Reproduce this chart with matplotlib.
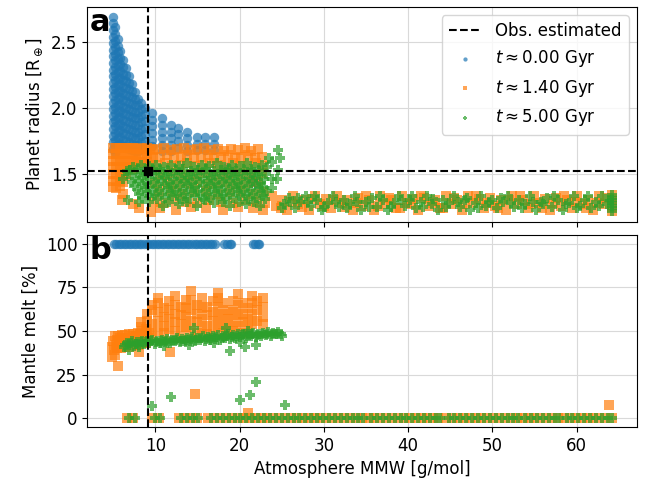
import numpy as np
import matplotlib.pyplot as plt

# observed estimate
obs_mmw = 9.1
obs_radius = 1.52

# ---- panel a: planet radius vs MMW ----
# t = 0 Gyr, grouped by column: (mmw, [radius, ...])
blue_radius_cols = [
    (4.95, [2.69, 2.64, 2.59, 2.54, 2.49, 2.44, 2.39, 2.34, 2.29, 2.24, 2.19, 2.14, 2.09, 2.04, 1.99, 1.94, 1.89, 1.84, 1.79, 1.74, 1.69]),
    (5.25, [2.61, 2.56, 2.51, 2.46, 2.41, 2.36, 2.31, 2.26, 2.21, 2.16, 2.11, 2.06, 2.01, 1.96, 1.91, 1.86, 1.81, 1.76, 1.71, 1.66]),
    (5.55, [2.52, 2.47, 2.42, 2.37, 2.32, 2.27, 2.22, 2.17, 2.12, 2.07, 2.02, 1.97, 1.92, 1.87, 1.82, 1.77, 1.72]),
    (5.85, [2.43, 2.38, 2.33, 2.28, 2.23, 2.18, 2.13, 2.08, 2.03, 1.98, 1.93, 1.88, 1.83, 1.78, 1.73]),
    (6.15, [2.36, 2.31, 2.26, 2.21, 2.16, 2.11, 2.06, 2.01, 1.96, 1.91, 1.86, 1.81, 1.76, 1.71]),
    (6.50, [2.30, 2.25, 2.20, 2.15, 2.10, 2.05, 2.00, 1.95, 1.90, 1.85, 1.80, 1.75, 1.70]),
    (6.85, [2.24, 2.19, 2.14, 2.09, 2.04, 1.99, 1.94, 1.89, 1.84, 1.79, 1.74, 1.69]),
    (7.20, [2.18, 2.13, 2.08, 2.03, 1.98, 1.93, 1.88, 1.83, 1.78, 1.73, 1.68]),
    (7.55, [2.12, 2.07, 2.02, 1.97, 1.92, 1.87, 1.82, 1.77, 1.72, 1.67]),
    (7.95, [2.07, 2.02, 1.97, 1.92, 1.87, 1.82, 1.77, 1.72, 1.67]),
    (8.35, [2.04, 1.99, 1.94, 1.89, 1.84, 1.79, 1.74, 1.69]),
    (8.80, [2.00, 1.95, 1.90, 1.85, 1.80, 1.75, 1.70]),
    (9.60, [1.96, 1.91, 1.86, 1.81, 1.76, 1.71]),
    (10.8, [1.92, 1.87, 1.82, 1.77, 1.72, 1.67]),
    (11.9, [1.87, 1.82, 1.77, 1.72, 1.67]),
    (12.7, [1.85, 1.80, 1.75, 1.70]),
    (13.7, [1.82, 1.77, 1.72, 1.67]),
    (14.9, [1.78, 1.73, 1.68]),
    (15.9, [1.78, 1.73, 1.68]),
    (16.9, [1.78, 1.73, 1.68]),
    (18.5, [1.55, 1.50]),
    (19.2, [1.52]),
    (21.5, [1.47, 1.44]),
    (22.0, [1.43]),
]

# t = 1.4 Gyr (mmw, radius)
orange_radius = [
    (4.95, 1.70), (4.95, 1.65), (4.95, 1.60), (4.95, 1.55), (4.95, 1.50), (4.95, 1.45), (4.95, 1.40),
    (5.35, 1.70), (5.35, 1.65), (5.35, 1.60), (5.35, 1.55), (5.35, 1.50), (5.35, 1.45), (5.35, 1.39),
    (5.75, 1.70), (5.75, 1.65), (5.75, 1.60), (5.75, 1.55), (5.75, 1.50), (5.75, 1.45), (5.75, 1.41),
    (6.15, 1.70), (6.15, 1.65), (6.15, 1.60), (6.15, 1.55), (6.15, 1.50), (6.15, 1.44), (6.10, 1.35),
    (6.55, 1.70), (6.55, 1.65), (6.55, 1.60), (6.55, 1.55), (6.55, 1.49),
    (6.95, 1.70), (6.95, 1.65), (6.95, 1.60), (6.95, 1.55),
    (7.35, 1.70), (7.35, 1.65), (7.35, 1.60), (7.35, 1.54),
    (7.75, 1.69), (7.75, 1.64), (7.75, 1.59),
    (8.15, 1.70), (8.15, 1.65), (8.15, 1.59),
    (8.55, 1.69), (8.55, 1.64), (8.55, 1.58),
    (8.95, 1.70), (8.95, 1.65), (8.95, 1.59),
    (9.35, 1.69), (9.35, 1.63), (9.35, 1.57),
    (9.75, 1.68), (9.75, 1.62),
    (6.0, 1.30), (7.3, 1.27), (8.0, 1.24), (9.5, 1.21),
    (10.2, 1.69), (11.0, 1.70), (11.8, 1.68), (12.6, 1.69), (13.4, 1.70), (14.2, 1.68), (15.0, 1.69), (15.8, 1.70),
    (16.6, 1.68), (17.4, 1.69), (18.2, 1.67), (19.0, 1.69), (19.8, 1.68), (20.6, 1.70), (21.4, 1.67), (22.2, 1.69),
    (10.6, 1.63), (11.4, 1.64), (12.2, 1.62), (13.0, 1.63), (13.8, 1.64), (14.6, 1.62), (15.4, 1.63), (16.2, 1.64),
    (17.0, 1.62), (17.8, 1.63), (18.6, 1.64), (19.4, 1.62), (20.2, 1.63), (21.0, 1.64), (21.8, 1.62), (22.6, 1.63),
    (10.2, 1.57), (11.1, 1.58), (12.0, 1.56), (12.9, 1.57), (13.8, 1.58), (14.7, 1.56), (15.6, 1.57), (16.5, 1.58),
    (17.4, 1.56), (18.3, 1.57), (19.2, 1.58), (20.1, 1.56), (21.0, 1.57), (21.9, 1.58), (22.8, 1.56),
    (10.6, 1.50), (11.8, 1.51), (13.0, 1.49), (14.2, 1.50), (15.4, 1.51), (16.6, 1.49), (17.8, 1.50), (19.0, 1.51),
    (20.2, 1.49), (21.4, 1.50), (22.6, 1.51),
    (10.0, 1.43), (11.4, 1.44), (12.6, 1.42), (13.8, 1.43), (15.0, 1.44), (16.2, 1.42), (17.4, 1.43), (18.6, 1.44),
    (19.8, 1.42), (21.0, 1.43), (22.2, 1.44),
    (10.4, 1.36), (11.8, 1.37), (13.2, 1.35), (14.6, 1.36), (16.0, 1.37), (17.4, 1.35), (18.8, 1.36), (20.2, 1.37),
    (21.6, 1.35), (22.8, 1.36),
    (9.8, 1.29), (11.0, 1.28), (12.2, 1.30), (13.6, 1.29), (15.0, 1.28), (16.4, 1.30), (17.8, 1.29), (19.2, 1.28),
    (20.6, 1.30), (22.0, 1.29), (23.0, 1.28),
    (10.6, 1.24), (12.4, 1.23), (14.2, 1.25), (16.0, 1.24), (18.0, 1.23), (19.8, 1.25), (21.6, 1.24), (22.8, 1.23),
    (23.8, 1.33), (24.3, 1.26), (25.0, 1.30), (25.6, 1.23), (26.3, 1.33), (26.9, 1.27), (27.6, 1.30), (28.2, 1.23),
    (28.9, 1.33), (29.5, 1.27), (30.2, 1.31), (30.8, 1.24), (31.5, 1.33), (32.1, 1.28), (32.8, 1.30), (33.4, 1.23),
    (34.1, 1.32), (34.7, 1.26), (35.4, 1.30), (36.0, 1.23), (36.7, 1.33), (37.3, 1.27), (38.0, 1.30), (38.6, 1.24),
    (39.3, 1.33), (39.9, 1.28), (40.6, 1.31), (41.2, 1.23), (41.9, 1.32), (42.5, 1.26), (43.2, 1.30), (43.8, 1.24),
    (44.5, 1.33), (45.1, 1.27), (45.8, 1.30), (46.4, 1.23), (47.1, 1.33), (47.7, 1.28), (48.4, 1.31), (49.0, 1.24),
    (49.7, 1.32), (50.3, 1.26), (51.0, 1.30), (51.6, 1.23), (52.3, 1.33), (52.9, 1.27), (53.6, 1.30), (54.2, 1.24),
    (54.9, 1.33), (55.5, 1.28), (56.2, 1.31), (56.8, 1.23), (57.5, 1.32), (58.1, 1.26), (58.8, 1.30), (59.4, 1.24),
    (60.1, 1.33), (60.7, 1.27), (61.4, 1.30), (62.0, 1.23), (62.7, 1.33), (63.3, 1.27),
    (24.9, 1.24), (26.1, 1.29), (27.4, 1.25), (28.6, 1.31), (30.0, 1.26), (31.2, 1.30), (32.5, 1.25), (33.8, 1.28),
    (35.0, 1.33), (36.4, 1.26), (37.7, 1.32), (39.0, 1.24), (40.3, 1.27), (41.5, 1.33), (42.9, 1.28), (44.2, 1.24),
    (45.5, 1.32), (46.8, 1.27), (48.1, 1.33), (49.4, 1.28), (50.7, 1.24), (52.0, 1.30), (53.3, 1.33), (54.6, 1.27),
    (55.9, 1.24), (57.2, 1.28), (58.5, 1.33), (59.8, 1.29), (61.1, 1.24), (62.4, 1.28), (63.6, 1.32),
    (64.2, 1.22), (64.2, 1.25), (64.2, 1.28), (64.2, 1.31), (64.2, 1.34),
]

# t = 5 Gyr (mmw, radius)
green_radius = [
    (7.4, 1.55), (8.3, 1.57), (9.2, 1.56), (10.1, 1.57), (11.0, 1.55), (11.9, 1.57), (12.8, 1.56), (13.7, 1.58),
    (14.6, 1.55), (15.5, 1.57), (16.4, 1.56), (17.3, 1.58), (18.2, 1.55), (19.1, 1.57), (20.0, 1.56), (20.9, 1.58),
    (21.8, 1.55), (22.7, 1.57),
    (7.0, 1.53), (7.9, 1.54), (8.8, 1.52), (9.7, 1.53), (10.6, 1.54), (11.5, 1.52), (12.4, 1.53), (13.3, 1.54),
    (14.2, 1.52), (15.1, 1.53), (16.0, 1.54), (16.9, 1.52), (17.8, 1.53), (18.7, 1.54), (19.6, 1.52), (20.5, 1.53),
    (21.4, 1.54), (22.3, 1.52), (23.2, 1.55),
    (6.8, 1.50), (7.8, 1.51), (8.7, 1.49), (9.6, 1.50), (10.5, 1.51), (11.4, 1.49), (12.3, 1.50), (13.2, 1.51),
    (14.1, 1.49), (15.0, 1.50), (15.9, 1.51), (16.8, 1.49), (17.7, 1.50), (18.6, 1.51), (19.5, 1.49), (20.4, 1.50),
    (21.3, 1.51), (22.2, 1.49), (23.1, 1.50),
    (7.6, 1.47), (8.5, 1.48), (9.4, 1.46), (10.3, 1.47), (11.2, 1.48), (12.1, 1.46), (13.0, 1.47), (13.9, 1.48),
    (14.8, 1.46), (15.7, 1.47), (16.6, 1.48), (17.5, 1.46), (18.4, 1.47), (19.3, 1.48), (20.2, 1.46), (21.1, 1.47),
    (22.0, 1.48), (22.9, 1.46),
    (7.2, 1.44), (8.1, 1.45), (9.0, 1.43), (9.9, 1.44), (10.8, 1.45), (11.7, 1.43), (12.6, 1.44), (13.5, 1.45),
    (14.4, 1.43), (15.3, 1.44), (16.2, 1.45), (17.1, 1.43), (18.0, 1.44), (18.9, 1.45), (19.8, 1.43), (20.7, 1.44),
    (21.6, 1.45), (22.5, 1.43),
    (7.5, 1.41), (8.4, 1.42), (9.3, 1.40), (10.2, 1.41), (11.1, 1.42), (12.0, 1.40), (12.9, 1.41), (13.8, 1.42),
    (14.7, 1.40), (15.6, 1.41), (16.5, 1.42), (17.4, 1.40), (18.3, 1.41), (19.2, 1.42), (20.1, 1.40), (21.0, 1.41),
    (21.9, 1.42), (22.8, 1.40),
    (7.9, 1.38), (8.8, 1.39), (9.7, 1.37), (10.6, 1.38), (11.5, 1.39), (12.4, 1.37), (13.3, 1.38), (14.2, 1.39),
    (15.1, 1.37), (16.0, 1.38), (16.9, 1.39), (17.8, 1.37), (18.7, 1.38), (19.6, 1.39), (20.5, 1.37), (21.4, 1.38),
    (22.3, 1.39), (23.2, 1.37),
    (8.1, 1.35), (9.0, 1.36), (9.9, 1.34), (10.8, 1.35), (11.7, 1.36), (12.6, 1.34), (13.5, 1.35), (14.4, 1.36),
    (15.3, 1.34), (16.2, 1.35), (17.1, 1.36), (18.0, 1.34), (18.9, 1.35), (19.8, 1.36), (20.7, 1.34), (21.6, 1.35),
    (22.5, 1.36),
    (8.4, 1.32), (9.3, 1.33), (10.2, 1.31), (11.1, 1.32), (12.0, 1.33), (12.9, 1.31), (13.8, 1.32), (14.7, 1.33),
    (15.6, 1.31), (16.5, 1.32), (17.4, 1.33), (18.3, 1.31), (19.2, 1.32), (20.1, 1.33), (21.0, 1.31), (21.9, 1.32),
    (22.8, 1.33),
    (6.7, 1.30), (9.3, 1.29), (10.9, 1.26), (12.8, 1.27), (14.9, 1.26), (17.0, 1.28), (18.9, 1.26), (20.8, 1.27),
    (22.4, 1.26), (6.2, 1.46), (6.6, 1.52),
    (8.0, 1.29), (11.6, 1.29), (13.7, 1.29), (15.9, 1.30), (18.0, 1.29), (19.9, 1.29), (21.7, 1.29), (23.0, 1.31),
    (23.9, 1.59), (24.8, 1.62), (24.5, 1.68), (23.8, 1.46), (24.4, 1.46), (23.8, 1.39), (24.6, 1.53), (23.5, 1.62),
    (25.3, 1.27), (25.9, 1.32), (26.6, 1.24), (27.2, 1.29), (27.9, 1.33), (28.5, 1.26), (29.2, 1.30), (29.8, 1.23),
    (30.5, 1.28), (31.1, 1.33), (31.8, 1.25), (32.4, 1.30), (33.1, 1.27), (33.7, 1.33), (34.4, 1.23), (35.0, 1.29),
    (35.7, 1.32), (36.3, 1.25), (37.0, 1.30), (37.6, 1.23), (38.3, 1.28), (38.9, 1.33), (39.6, 1.26), (40.2, 1.30),
    (40.9, 1.24), (41.5, 1.29), (42.2, 1.33), (42.8, 1.27), (43.5, 1.23), (44.1, 1.30), (44.8, 1.28), (45.4, 1.33),
    (46.1, 1.25), (46.7, 1.30), (47.4, 1.23), (48.0, 1.28), (48.7, 1.33), (49.3, 1.26), (50.0, 1.30), (50.6, 1.24),
    (51.3, 1.29), (51.9, 1.33), (52.6, 1.25), (53.2, 1.30), (53.9, 1.27), (54.5, 1.33), (55.2, 1.23), (55.8, 1.29),
    (56.5, 1.32), (57.1, 1.25), (57.8, 1.30), (58.4, 1.23), (59.1, 1.28), (59.7, 1.33), (60.4, 1.26), (61.0, 1.30),
    (61.7, 1.24), (62.3, 1.29), (63.0, 1.33), (63.6, 1.27),
    (25.0, 1.24), (26.0, 1.29), (26.9, 1.32), (28.1, 1.29), (29.0, 1.33), (30.0, 1.25), (31.4, 1.29), (32.8, 1.24),
    (33.9, 1.29), (35.3, 1.25), (36.7, 1.33), (38.0, 1.25), (39.2, 1.30), (40.5, 1.33), (41.8, 1.25), (43.0, 1.31),
    (44.5, 1.25), (45.9, 1.29), (47.0, 1.32), (48.3, 1.24), (49.6, 1.29), (51.0, 1.32), (52.2, 1.28), (53.5, 1.24),
    (54.8, 1.29), (56.0, 1.27), (57.3, 1.33), (58.7, 1.27), (60.0, 1.24), (61.3, 1.33), (62.6, 1.26), (63.8, 1.30),
    (64.2, 1.22), (64.2, 1.24), (64.2, 1.26), (64.2, 1.28), (64.2, 1.30), (64.2, 1.32), (64.2, 1.34),
]

# ---- panel b: mantle melt vs MMW ----
blue_melt_x = [5.05, 5.35, 5.65, 5.95, 6.25, 6.55, 6.85, 7.15, 7.45, 7.75, 8.05, 8.35, 8.65, 8.95,
               9.25, 9.55, 9.85, 10.15, 10.45, 10.75, 11.05, 11.35, 11.65, 11.95, 12.25, 12.55, 12.85,
               13.15, 13.45, 13.75, 14.05, 14.35, 14.65, 14.95, 15.25, 15.55, 15.85, 16.15, 16.45,
               16.75, 17.05, 18.2, 18.5, 18.8, 19.0, 21.55, 21.85, 22.15, 22.35]
blue_melt = [100, 100, 100, 100, 100, 100, 100, 100, 100, 100, 100, 100, 100, 100,
             100, 100, 100, 100, 100, 100, 100, 100, 100, 100, 100, 100, 100,
             100, 100, 100, 100, 100, 100, 100, 100, 100, 100, 100, 100,
             100, 100, 100, 100, 100, 100, 100, 100, 100, 100]

orange_melt = [
    (4.9, 41), (5.0, 44), (5.3, 42), (5.4, 45), (5.7, 43), (5.8, 46), (6.1, 42), (6.2, 45), (6.6, 43), (6.7, 46),
    (7.1, 44), (7.2, 47), (7.6, 44), (7.7, 47), (8.1, 45), (8.2, 48), (8.6, 45), (8.7, 48), (9.1, 46), (9.2, 49),
    (5.1, 39), (5.5, 40), (5.9, 40), (6.4, 41), (6.9, 41), (7.4, 42), (7.9, 42), (8.4, 43), (8.9, 43),
    (5.2, 47), (5.6, 47), (6.0, 47.5), (6.4, 47.5), (6.9, 48), (7.4, 48.5), (7.9, 49), (8.4, 50), (8.9, 51),
    (4.85, 35), (5.25, 36), (5.6, 30), (8.0, 38), (11.7, 38), (14.7, 14), (21.0, 3), (63.8, 7.5),
    (8.3, 52), (8.3, 55), (9.0, 50), (9.0, 56), (9.0, 60), (9.6, 48), (9.6, 54), (9.6, 62), (9.6, 65),
    (10.3, 50), (10.3, 56), (10.3, 61), (10.3, 66), (10.3, 69), (11.0, 49), (11.0, 53), (11.0, 58), (11.0, 63),
    (11.6, 51), (11.6, 57), (11.6, 62), (11.6, 67), (12.3, 50), (12.3, 55), (12.3, 60), (12.3, 65), (12.3, 70),
    (13.0, 48), (13.0, 54), (13.0, 59), (13.0, 64), (13.6, 52), (13.6, 58), (13.6, 63), (13.6, 68),
    (14.2, 50), (14.2, 56), (14.2, 62), (14.2, 68), (14.2, 73), (14.9, 49), (14.9, 55), (14.9, 60), (14.9, 65),
    (15.5, 51), (15.5, 57), (15.5, 63), (15.5, 69), (16.1, 48), (16.1, 53), (16.1, 59), (16.1, 64),
    (16.8, 50), (16.8, 56), (16.8, 61), (16.8, 67), (17.4, 52), (17.4, 58), (17.4, 64), (17.4, 69), (17.4, 72),
    (18.0, 49), (18.0, 54), (18.0, 60), (18.0, 66), (18.6, 51), (18.6, 57), (18.6, 62),
    (19.2, 50), (19.2, 55), (19.2, 61), (19.2, 67), (19.8, 53), (19.8, 59), (19.8, 65), (19.8, 71),
    (20.4, 49), (20.4, 55), (20.4, 60), (20.4, 66), (21.0, 51), (21.0, 57), (21.0, 63),
    (21.5, 54), (21.5, 60), (21.5, 66), (21.5, 70), (22.1, 56), (22.1, 62), (22.1, 67),
    (22.8, 54), (22.8, 58), (22.8, 64), (22.8, 69),
]
orange_zero_x = [6.6, 7.4, 9.6, 10.4, 12.8, 13.5, 14.2, 14.9, 16.3, 17.0, 17.7, 18.4, 19.1, 19.8, 20.5,
                 21.2, 21.9, 22.6, 23.3, 24.0, 24.7, 25.4, 26.1, 26.8, 27.5, 28.2, 28.9, 29.6, 30.3,
                 31.0, 31.7, 32.4, 33.1, 33.8, 34.5, 35.3, 36.0, 36.7, 37.4, 38.1, 38.8, 39.5, 40.2,
                 40.9, 41.6, 42.3, 43.0, 43.6, 44.5, 45.2, 45.9, 46.6, 47.3, 48.0, 48.7, 49.4, 50.1,
                 50.8, 51.5, 52.2, 52.9, 53.6, 54.3, 55.0, 55.7, 56.4, 57.1, 57.8, 58.5, 59.2, 59.9,
                 60.6, 61.3, 62.0, 62.7, 63.4, 64.2]
orange_zero = [0, 0, 0, 0, 0, 0, 0, 0, 0, 0, 0, 0, 0, 0, 0,
               0, 0, 0, 0, 0, 0, 0, 0, 0, 0, 0, 0, 0, 0,
               0, 0, 0, 0, 0, 0, 0, 0, 0, 0, 0, 0, 0, 0,
               0, 0, 0, 0, 0, 0, 0, 0, 0, 0, 0, 0, 0, 0,
               0, 0, 0, 0, 0, 0, 0, 0, 0, 0, 0, 0, 0, 0,
               0, 0, 0, 0, 0, 0]

green_melt = [
    (6.3, 41), (6.6, 43), (6.9, 42), (7.2, 44), (7.5, 41.5), (7.8, 43.5), (8.1, 42), (8.4, 44.5), (8.7, 42.5),
    (9.0, 44), (9.3, 43), (9.6, 45), (9.9, 42.5), (10.2, 44.5), (10.5, 43), (10.8, 45), (11.1, 43.5), (11.4, 45.5),
    (11.7, 43), (12.0, 45), (12.3, 44), (12.6, 46), (12.9, 43.5), (13.2, 45.5), (13.5, 44), (13.8, 46),
    (14.1, 44.5), (14.4, 46.5), (14.7, 44), (15.0, 46), (15.3, 45), (15.6, 47), (15.9, 44.5), (16.2, 46.5),
    (16.5, 45), (16.8, 47), (17.1, 45.5), (17.4, 47.5), (17.7, 45), (18.0, 47), (18.3, 46), (18.6, 48),
    (18.9, 45.5), (19.2, 47.5), (19.5, 46), (19.8, 48), (20.1, 46.5), (20.4, 48.5), (20.7, 46), (21.0, 48),
    (21.3, 47), (21.6, 49), (21.9, 46.5), (22.2, 48.5), (22.5, 47), (22.8, 49), (23.1, 47.5), (23.4, 49.5),
    (23.7, 47), (24.0, 49), (24.3, 48), (24.6, 49.5), (24.9, 48),
    (6.45, 42), (7.05, 43), (7.65, 42.5), (8.25, 43.5), (8.85, 43.5), (9.45, 44), (10.05, 43.5), (10.65, 44),
    (11.25, 44.5), (11.85, 44), (12.45, 45), (13.05, 44.5), (13.65, 45), (14.25, 45.5), (14.85, 45), (15.45, 46),
    (16.05, 45.5), (16.65, 46), (17.25, 46.5), (17.85, 46), (18.45, 47), (19.05, 46.5), (19.65, 47), (20.25, 47.5),
    (20.85, 47), (21.45, 48), (22.05, 47.5), (22.65, 48), (23.25, 48.5), (23.85, 48), (24.45, 48.5), (25.05, 47),
    (8.0, 41), (11.0, 41.5), (14.0, 42), (17.0, 43), (20.0, 43.5), (22.0, 42), (18.8, 38.5), (6.9, 39), (20.6, 41),
    (14.6, 51.7), (18.4, 51.7), (21.0, 50),
    (9.56, 7), (11.9, 12.3), (20.0, 10.7), (21.2, 13.2), (21.9, 20.5), (25.4, 7.5),
]
green_zero_x = [6.9, 7.6, 9.9, 10.6, 13.1, 13.8, 14.5, 15.1, 16.6, 17.3, 18.0, 18.7, 19.4, 20.1, 20.8,
                21.5, 22.2, 22.9, 23.6, 24.3, 25.0, 25.7, 26.4, 27.1, 27.8, 28.5, 29.2, 29.9, 30.6,
                31.3, 32.0, 32.7, 33.4, 34.1, 34.7, 35.6, 36.3, 37.0, 37.7, 38.4, 39.1, 39.8, 40.5,
                41.2, 41.9, 42.6, 43.3, 43.8, 44.8, 45.5, 46.2, 46.9, 47.6, 48.3, 49.0, 49.7, 50.4,
                51.1, 51.8, 52.5, 53.0, 53.9, 54.6, 55.3, 56.0, 56.7, 57.4, 57.9, 58.8, 59.5, 60.2,
                60.9, 61.6, 62.3, 63.0, 63.7, 64.2]
green_zero = [0, 0, 0, 0, 0, 0, 0, 0, 0, 0, 0, 0, 0, 0, 0,
              0, 0, 0, 0, 0, 0, 0, 0, 0, 0, 0, 0, 0, 0,
              0, 0, 0, 0, 0, 0, 0, 0, 0, 0, 0, 0, 0, 0,
              0, 0, 0, 0, 0, 0, 0, 0, 0, 0, 0, 0, 0, 0,
              0, 0, 0, 0, 0, 0, 0, 0, 0, 0, 0, 0, 0, 0,
              0, 0, 0, 0, 0, 0]

labels = [r"$t \approx 0.00$ Gyr", r"$t \approx 1.40$ Gyr", r"$t \approx 5.00$ Gyr"]

# flatten
bx, br = [], []
for x, rs in blue_radius_cols:
    bx += [x] * len(rs)
    br += rs
ox, orr = zip(*orange_radius)
gx, gr = zip(*green_radius)
omx, om = zip(*orange_melt)
gmx, gm = zip(*green_melt)

plt.rcParams['font.size'] = 12

fig, (ax1, ax2) = plt.subplots(2, 1, figsize=(6.54, 4.83), dpi=100, sharex=True,
                               gridspec_kw=dict(height_ratios=[215, 192]))
fig.subplots_adjust(left=0.133, right=0.974, top=0.9855, bottom=0.116, hspace=0.064)

kw_b = dict(marker='o', s=46, color='C0', alpha=0.7, linewidths=0)
kw_o = dict(marker='s', s=50, color='C1', alpha=0.7, linewidths=0)
kw_g = dict(marker='P', s=48, color='C2', alpha=0.7, linewidths=0)

# panel a
ax1.axvline(obs_mmw, color='k', ls='--', lw=1.5, label='Obs. estimated', zorder=4)
ax1.axhline(obs_radius, color='k', ls='--', lw=1.5, zorder=4)
ax1.scatter(bx, br, label=labels[0], **kw_b)
ax1.scatter(ox, orr, label=labels[1], **kw_o)
ax1.scatter(gx, gr, label=labels[2], **kw_g)
ax1.scatter([obs_mmw], [obs_radius], marker='s', color='k', s=40, zorder=5)
ax1.set_ylabel(r"Planet radius [R$_\oplus$]")
ax1.set_yticks([1.5, 2.0, 2.5])
ax1.grid(color='0.85')
ax1.set_axisbelow(True)
ax1.legend(loc='upper right', markerscale=0.45, fontsize=12)
ax1.text(0.005, 0.995, 'a', transform=ax1.transAxes, fontsize=22, fontweight='bold',
         va='top', ha='left')

# panel b
ax2.axvline(obs_mmw, color='k', ls='--', lw=1.5, zorder=4)
ax2.scatter(blue_melt_x, blue_melt, **kw_b)
ax2.scatter(omx, om, **kw_o)
ax2.scatter(orange_zero_x, orange_zero, **kw_o)
ax2.scatter(gmx, gm, **kw_g)
ax2.scatter(green_zero_x, green_zero, **kw_g)
ax2.set_ylabel("Mantle melt [%]")
ax2.set_xlabel("Atmosphere MMW [g/mol]")
ax2.set_yticks([0, 25, 50, 75, 100])
ax2.grid(color='0.85')
ax2.set_axisbelow(True)
ax2.text(0.005, 0.995, 'b', transform=ax2.transAxes, fontsize=22, fontweight='bold',
         va='top', ha='left')

fig.savefig('out.png', dpi=100)
